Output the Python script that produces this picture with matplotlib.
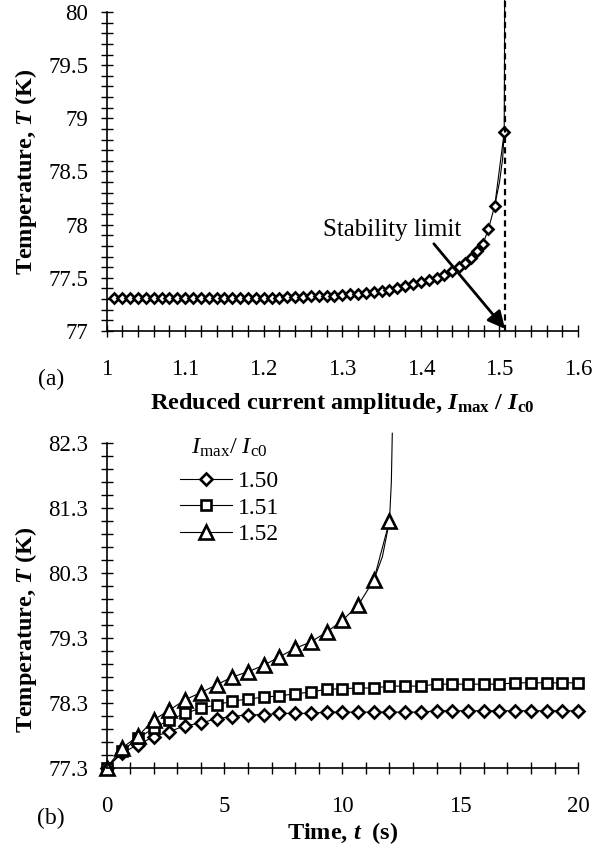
import matplotlib
matplotlib.use("Agg")
import matplotlib.pyplot as plt
from matplotlib.ticker import FixedLocator
import numpy as np

plt.rcParams['font.family'] = ['Liberation Serif', 'DejaVu Serif']
plt.rcParams['mathtext.fontset'] = 'custom'
plt.rcParams['mathtext.rm'] = 'Liberation Serif'
plt.rcParams['mathtext.bf'] = 'Liberation Serif:bold'
plt.rcParams['mathtext.it'] = 'Liberation Serif:italic:bold'
plt.rcParams['mathtext.sf'] = 'Liberation Serif:italic'

# ---- panel (a): temperature vs reduced current amplitude
a_x = [1.01, 1.02, 1.03, 1.04, 1.05, 1.06, 1.07, 1.08, 1.09, 1.10,
       1.11, 1.12, 1.13, 1.14, 1.15, 1.16, 1.17, 1.18, 1.19, 1.20,
       1.21, 1.22, 1.23, 1.24, 1.25, 1.26, 1.27, 1.28, 1.29, 1.30,
       1.31, 1.32, 1.33, 1.34, 1.35, 1.36, 1.37, 1.38, 1.39, 1.40,
       1.41, 1.42, 1.43, 1.44, 1.448, 1.456, 1.464, 1.472, 1.479,
       1.486, 1.494, 1.506]
a_T = [77.31, 77.31, 77.31, 77.31, 77.31, 77.31, 77.31, 77.31, 77.31, 77.31,
       77.31, 77.31, 77.31, 77.31, 77.31, 77.31, 77.31, 77.31, 77.31, 77.31,
       77.31, 77.31, 77.315, 77.315, 77.32, 77.325, 77.325, 77.33, 77.33, 77.34,
       77.345, 77.35, 77.36, 77.37, 77.38, 77.39, 77.405, 77.42, 77.44, 77.46,
       77.48, 77.50, 77.53, 77.56, 77.60, 77.64, 77.69, 77.75, 77.82,
       77.96, 78.18, 78.87]
# curve continuing to runaway (no markers)
a_tail_x = [1.494, 1.500, 1.504, 1.506, 1.5064, 1.5066]
a_tail_T = [78.18, 78.40, 78.62, 78.87, 79.6, 80.3]
limit_x = 1.507

a_xticks = [1.0, 1.1, 1.2, 1.3, 1.4, 1.5, 1.6]
a_xlabels = ['1', '1.1', '1.2', '1.3', '1.4', '1.5', '1.6']
a_yticks = [77, 77.5, 78, 78.5, 79, 79.5, 80]
a_ylabels = ['77', '77.5', '78', '78.5', '79', '79.5', '80']

# ---- panel (b): temperature vs time
t = [0, 0.667, 1.333, 2, 2.667, 3.333, 4, 4.667, 5.333, 6, 6.667, 7.333,
     8, 8.667, 9.333, 10, 10.667, 11.333, 12, 12.667, 13.333, 14, 14.667,
     15.333, 16, 16.667, 17.333, 18, 18.667, 19.333, 20]
T_150 = [77.3, 77.53, 77.66, 77.78, 77.86, 77.95, 77.99, 78.06, 78.09, 78.12,
         78.12, 78.14, 78.14, 78.14, 78.16, 78.16, 78.16, 78.16, 78.16, 78.16,
         78.16, 78.18, 78.18, 78.18, 78.18, 78.18, 78.18, 78.18, 78.18, 78.18,
         78.18]
T_151 = [77.3, 77.56, 77.76, 77.91, 78.04, 78.14, 78.22, 78.27, 78.33, 78.36,
         78.39, 78.41, 78.44, 78.47, 78.51, 78.52, 78.53, 78.53, 78.56, 78.56,
         78.56, 78.59, 78.59, 78.59, 78.59, 78.59, 78.61, 78.61, 78.61, 78.61,
         78.61]
t_152 = [0, 0.667, 1.333, 2, 2.667, 3.333, 4, 4.667, 5.333, 6, 6.667, 7.333,
         8, 8.667, 9.333, 10, 10.667, 11.333, 12]
T_152 = [77.3, 77.61, 77.79, 78.04, 78.19, 78.35, 78.46, 78.58, 78.70, 78.78,
         78.88, 79.01, 79.14, 79.24, 79.39, 79.57, 79.80, 80.19, 81.10]
b_tail_t = [11.333, 11.7, 12, 12.08, 12.12]
b_tail_T = [80.19, 80.55, 81.10, 81.7, 82.45]

b_yticks = [77.3, 78.3, 79.3, 80.3, 81.3, 82.3]
b_ylabels = ['77.3', '78.3', '79.3', '80.3', '81.3', '82.3']
b_xticks = [0, 5, 10, 15, 20]
b_xlabels = ['0', '5', '10', '15', '20']
legend_labels = ['1.50', '1.51', '1.52']

fig = plt.figure(figsize=(6.14, 8.5), dpi=100)
ax1 = fig.add_axes([0.1735, 0.6106, 0.768, 0.3753])
ax2 = fig.add_axes([0.1735, 0.0965, 0.768, 0.3823])

for ax in (ax1, ax2):
    for s in ('top', 'right'):
        ax.spines[s].set_visible(False)
    for s in ('left', 'bottom'):
        ax.spines[s].set_linewidth(1.2)
    ax.tick_params(which='both', direction='inout', length=8, width=1.0,
                   labelsize=16.5)
    ax.tick_params(axis='y', which='major', pad=9)
    ax.tick_params(axis='x', which='major', pad=16)

mk = dict(mfc='white', mec='black', mew=1.9, color='black', lw=0.8,
          clip_on=False)

# panel (a)
ax1.plot(a_tail_x, a_tail_T, color='black', lw=0.8, clip_on=False)
ax1.plot(a_x, a_T, marker='D', ms=5, **mk)
ax1.plot([limit_x, limit_x], [77, 80.25], color='black', lw=1.6,
         dashes=(2.8, 1.9), clip_on=False)
ax1.annotate('', xy=(limit_x, 77.02), xytext=(1.4165, 77.82),
             arrowprops=dict(arrowstyle='-|>', lw=2, color='black',
                             mutation_scale=26, shrinkA=0, shrinkB=0))
ax1.text(1.363, 77.95, 'Stability limit', fontsize=18, ha='center',
         va='center')
ax1.set_xlim(1.0, 1.6)
ax1.set_ylim(77, 80)
ax1.set_xticks(a_xticks)
ax1.set_xticklabels(a_xlabels)
ax1.set_yticks(a_yticks)
ax1.set_yticklabels(a_ylabels)
ax1.xaxis.set_minor_locator(FixedLocator(np.arange(1.0, 1.601, 0.02)))
ax1.yaxis.set_minor_locator(FixedLocator(np.arange(77, 80.01, 0.1)))
ax1.set_xlabel(r'Reduced current amplitude, $\mathit{I}_{\mathbf{max}}$ / $\mathit{I}_{\mathbf{c0}}$',
               fontsize=17.5, fontweight='bold', va='center')
ax1.xaxis.set_label_coords(0.5, -0.226)
ax1.set_ylabel(r'Temperature, $\mathit{T}$ (K)', fontsize=17.5,
               fontweight='bold', va='center')
ax1.yaxis.set_label_coords(-0.17, 0.5)

# panel (b)
ax2.plot(b_tail_t, b_tail_T, color='black', lw=0.8, clip_on=False)
l1, = ax2.plot(t, T_150, marker='D', ms=6, **mk)
l2, = ax2.plot(t, T_151, marker='s', ms=7.5, **mk)
l3, = ax2.plot(t_152, T_152, marker='^', ms=9.5, **mk)
ax2.set_xlim(0, 20)
ax2.set_ylim(77.3, 82.3)
ax2.set_xticks(b_xticks)
ax2.set_xticklabels(b_xlabels)
ax2.set_yticks(b_yticks)
ax2.set_yticklabels(b_ylabels)
ax2.xaxis.set_minor_locator(FixedLocator(np.arange(0, 20.01, 1)))
ax2.yaxis.set_minor_locator(FixedLocator(np.arange(77.3, 82.31, 0.2)))
ax2.set_xlabel(r'Time, $\mathit{t}$  (s)', fontsize=17.5, fontweight='bold',
               va='center')
ax2.xaxis.set_label_coords(0.5, -0.2)
ax2.set_ylabel(r'Temperature, $\mathit{T}$ (K)', fontsize=17.5,
               fontweight='bold', va='center')
ax2.yaxis.set_label_coords(-0.17, 0.425)

leg = ax2.legend([l1, l2, l3], legend_labels,
                 loc='upper left', bbox_to_anchor=(0.293, 0.446),
                 bbox_transform=fig.transFigure, frameon=False,
                 fontsize=17, handlelength=2.2,
                 handletextpad=0.25, labelspacing=0.2, borderpad=0,
                 borderaxespad=0)
fig.text(0.373, 0.4735,
         r'$\mathsf{I}_{\mathrm{max}}$/ $\mathsf{I}_{\mathrm{c0}}$',
         fontsize=17.5, ha='center', va='center')

fig.text(0.083, 0.553, '(a)', fontsize=17, ha='center', va='center')
fig.text(0.083, 0.0376, '(b)', fontsize=17, ha='center', va='center')

fig.savefig('out.png', dpi=100)
